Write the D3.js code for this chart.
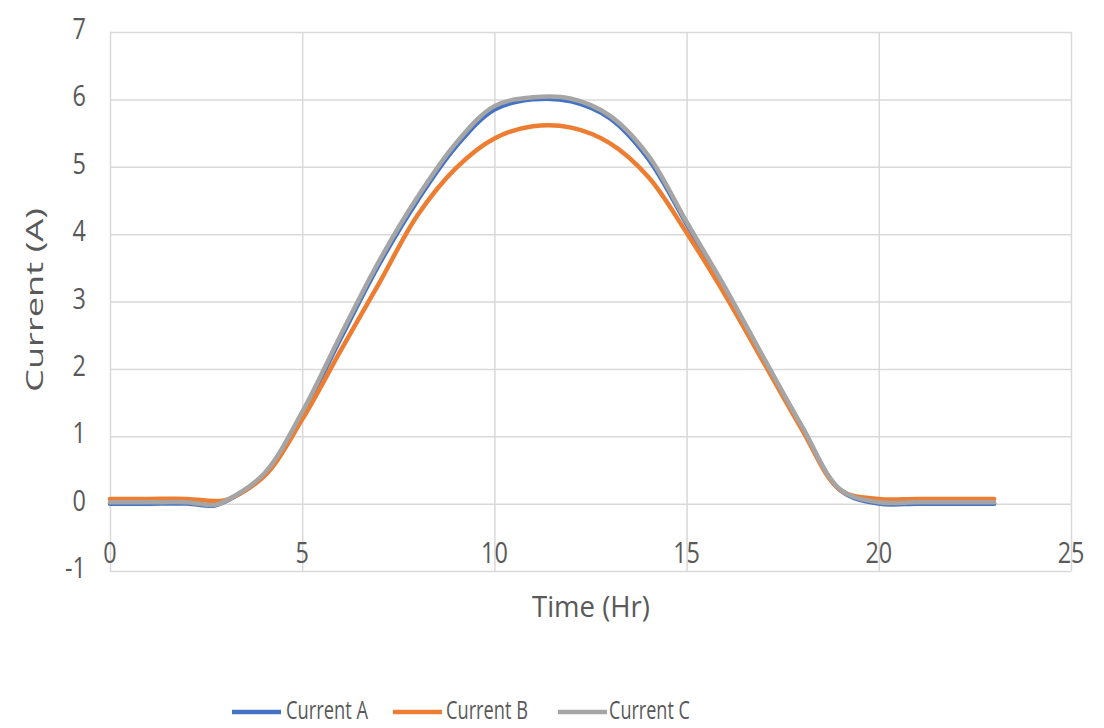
<!DOCTYPE html>
<html><head><meta charset="utf-8">
<script src="https://cdn.jsdelivr.net/npm/d3@7"></script>
<style>body{margin:0;background:#fff}svg{display:block}</style>
</head><body>
<script>
const hours = [0,1,2,2.7,3,4,5,6,7,8,9,10,11,12,13,14,15,16,17,18,19,20,21,22,23];
const currentA = [0.00,0.00,0.00,-0.03,0.03,0.42,1.33,2.45,3.55,4.50,5.30,5.85,6.00,5.97,5.72,5.12,4.15,3.18,2.15,1.13,0.20,0.00,0.00,0.00,0.00];
const currentB = [0.07,0.07,0.07,0.04,0.05,0.40,1.25,2.27,3.27,4.28,4.98,5.42,5.60,5.58,5.35,4.85,4.02,3.10,2.10,1.10,0.20,0.07,0.07,0.07,0.07];
const currentC = [0.02,0.02,0.02,-0.02,0.04,0.44,1.36,2.50,3.60,4.55,5.35,5.90,6.03,6.01,5.76,5.17,4.18,3.21,2.17,1.15,0.21,0.02,0.02,0.02,0.02];
const seriesNames = ["Current A","Current B","Current C"];
const seriesColors = ["#4472C4","#ED7D31","#A5A5A5"];
const xTicks = [0,5,10,15,20,25];
const yTicks = [-1,0,1,2,3,4,5,6,7];
const xTitle = "Time (Hr)";
const yTitle = "Current (A)";

const W = 1104, H = 728;
const svg = d3.select("body").append("svg").attr("width", W).attr("height", H);
const x = d3.scaleLinear().domain([0,25]).range([110,1071]);
const y = d3.scaleLinear().domain([-1,7]).range([571,32]);
const font = "'Open Sans', sans-serif";
const txtCol = "#595959";

// text helper: sx = scale along text, sy = scale across; len overrides sx
function label(t, px, py, size, anchor, opts) {
  opts = opts || {};
  const g = svg.append("g");
  const tx = g.append("text").text(t).attr("font-family", font).attr("font-size", size)
    .attr("fill", txtCol).attr("text-anchor", anchor);
  let sx = opts.sx || 1;
  if (opts.len) sx = opts.len / tx.node().getComputedTextLength();
  const sy = opts.sy || 1;
  g.attr("transform", `translate(${px},${py})` + (opts.rot ? ` rotate(${opts.rot})` : "") + ` scale(${sx},${sy})`);
}

// gridlines via axes
svg.append("g").attr("transform", "translate(110,0)")
  .call(d3.axisLeft(y).tickValues(yTicks).tickSize(-(1071-110)).tickFormat(""))
  .call(g => g.select(".domain").remove())
  .call(g => g.selectAll("line").attr("stroke", "#d9d9d9").attr("stroke-width", 1.5));
svg.append("g").attr("transform", "translate(0,571)")
  .call(d3.axisBottom(x).tickValues(xTicks).tickSize(-(571-32)).tickFormat(""))
  .call(g => g.select(".domain").remove())
  .call(g => g.selectAll("line").attr("stroke", "#d9d9d9").attr("stroke-width", 1.5));

// tick labels
yTicks.forEach(v => label(String(v), 86, y(v) + 7, 30, "end", {sx: 0.78}));
xTicks.forEach(v => label(String(v), x(v), 563, 30, "middle", {sx: 0.78}));

// axis titles
label(xTitle, 591, 617, 30, "middle", {len: 118});
label(yTitle, 43, 300, 30, "middle", {rot: -90, len: 184, sy: 0.8});

// lines
const allSeries = [currentA, currentB, currentC];
const line = d3.line().x((d,i) => x(hours[i])).y(d => y(d)).curve(d3.curveCatmullRom.alpha(0.5));
allSeries.forEach((s, k) => {
  svg.append("path").datum(s).attr("d", line).attr("fill", "none")
    .attr("stroke", seriesColors[k]).attr("stroke-width", 4.5)
    .attr("stroke-linecap", "round").attr("stroke-linejoin", "round");
});

// legend
const legX = [232, 393, 558];
const legTextX = [286, 446, 609];
const legLen = [82, 82, 81];
seriesNames.forEach((n, k) => {
  svg.append("line").attr("x1", legX[k]).attr("x2", legX[k] + 49)
    .attr("y1", 712).attr("y2", 712).attr("stroke", seriesColors[k]).attr("stroke-width", 4.5);
  label(n, legTextX[k], 719, 25, "start", {len: legLen[k]});
});
</script>
</body></html>
